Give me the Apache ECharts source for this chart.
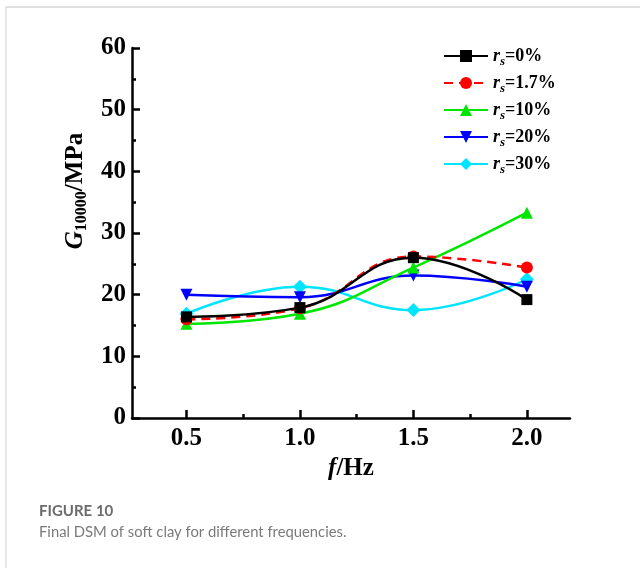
<!DOCTYPE html>
<html>
<head>
<meta charset="utf-8">
<script src="https://cdn.jsdelivr.net/npm/echarts@6/dist/echarts.min.js"></script>
<style>
html, body { margin: 0; padding: 0; background: #fff; }
#chartmain { width: 640px; height: 568px; }
</style>
</head>
<body>
<div id="chartmain"></div>
<script>
var freqs = [0.5, 1.0, 1.5, 2.0];
var seriesNames = ['rs=0%', 'rs=1.7%', 'rs=10%', 'rs=20%', 'rs=30%'];
var rsLabels = ['0%', '1.7%', '10%', '20%', '30%'];
var g0 = [16.4, 17.9, 26.0, 19.2];
var g17 = [16.0, 17.8, 26.2, 24.4];
var g10 = [15.3, 16.9, 24.4, 33.3];
var g20 = [20.0, 19.6, 23.1, 21.3];
var g30 = [16.9, 21.3, 17.5, 22.5];
var yTicks = [0, 10, 20, 30, 40, 50, 60];
var xMinorTicks = [0.75, 1.25, 1.75];

var colors = ['#000000', '#ff0000', '#00e600', '#0000ff', '#00e5ff'];
var symbols = ['rect', 'circle', 'triangle', 'path://M0,0 L10,0 L5,9 Z', 'diamond'];
var symbolSizes = [11, 12, 12, 12, 14];
var allData = [g0, g17, g10, g20, g30];

var serif = '"Liberation Serif", "Times New Roman", serif';

function pairs(vals) {
    var out = [];
    for (var i = 0; i < freqs.length; i++) {
        out.push([freqs[i], vals[i]]);
    }
    return out;
}

var series = [];
for (var k = 0; k < seriesNames.length; k++) {
    series.push({
        name: seriesNames[k],
        type: 'line',
        smooth: 0.45,
        data: pairs(allData[k]),
        symbol: symbols[k],
        symbolSize: symbolSizes[k],
        itemStyle: { color: colors[k] },
        lineStyle: { color: colors[k], width: 2.5, type: k === 1 ? [9, 6] : 'solid' },
        z: 10 - k
    });
}

var axisLine = { show: true, lineStyle: { color: '#000', width: 2.5 } };
var tickFont = { fontFamily: serif, fontWeight: 'bold', fontSize: 25, color: '#000' };

var chart = echarts.init(document.getElementById('chartmain'), null, { renderer: 'canvas' });
chart.setOption({
    animation: false,
    grid: { left: 132, top: 48, right: 70, bottom: 150 },
    legend: {
        orient: 'vertical',
        left: 438,
        top: 42,
        itemWidth: 44,
        itemHeight: 15,
        itemGap: 6,
        data: seriesNames,
        formatter: function (name) {
            var i = seriesNames.indexOf(name);
            return '{r|r}{s|s}{n|=' + rsLabels[i] + '}';
        },
        textStyle: {
            color: '#000',
            rich: {
                r: { color: '#000', fontFamily: serif, fontStyle: 'italic', fontWeight: 'bold', fontSize: 18, lineHeight: 24, verticalAlign: 'middle' },
                s: { color: '#000', fontFamily: serif, fontStyle: 'italic', fontWeight: 'bold', fontSize: 13, lineHeight: 24, verticalAlign: 'bottom' },
                n: { color: '#000', fontFamily: serif, fontWeight: 'bold', fontSize: 18, lineHeight: 24, verticalAlign: 'middle' }
            }
        },
        padding: [5, 5, 5, 5]
    },
    xAxis: [{
        type: 'value',
        min: 0.26,
        max: 2.19,
        axisLine: axisLine,
        axisTick: { show: true, inside: true, length: 8, lineStyle: { width: 2.5, color: '#000' }, customValues: freqs },
        axisLabel: Object.assign({ margin: 8, customValues: freqs, formatter: function (v) { return v.toFixed(1); } }, tickFont),
        splitLine: { show: false },
        name: '{f|f}{h|/Hz}',
        nameLocation: 'middle',
        nameGap: 36,
        nameTextStyle: {
            rich: {
                f: { color: '#000', fontFamily: serif, fontStyle: 'italic', fontWeight: 'bold', fontSize: 25 },
                h: { color: '#000', fontFamily: serif, fontWeight: 'bold', fontSize: 25 }
            }
        }
    }, {
        type: 'value',
        min: 0.26,
        max: 2.19,
        position: 'bottom',
        axisLine: { show: false },
        axisTick: { show: true, inside: true, length: 4, lineStyle: { width: 2.5, color: '#000' }, customValues: xMinorTicks },
        axisLabel: { show: false },
        splitLine: { show: false }
    }],
    yAxis: {
        type: 'value',
        min: 0,
        max: 60,
        interval: 10,
        axisLine: axisLine,
        axisTick: { show: true, inside: true, length: 8, lineStyle: { width: 2.5, color: '#000' } },
        minorTick: { show: true, splitNumber: 2, length: 4, lineStyle: { width: 2.5, color: '#000' } },
        axisLabel: Object.assign({ margin: 6, customValues: yTicks }, tickFont),
        splitLine: { show: false },
        name: '{g|G}{s|10000}{m|/MPa}',
        nameLocation: 'middle',
        nameRotate: 90,
        nameGap: 40,
        nameTextStyle: {
            padding: [0, 0, 0, 84],
            rich: {
                g: { color: '#000', fontFamily: serif, fontStyle: 'italic', fontWeight: 'bold', fontSize: 25, lineHeight: 30, verticalAlign: 'middle' },
                s: { color: '#000', fontFamily: serif, fontWeight: 'bold', fontSize: 16, lineHeight: 30, verticalAlign: 'bottom' },
                m: { color: '#000', fontFamily: serif, fontWeight: 'bold', fontSize: 25, lineHeight: 30, verticalAlign: 'middle' }
            }
        }
    },
    graphic: [
        { type: 'line', shape: { x1: 6, y1: 7, x2: 640, y2: 7 }, style: { stroke: '#d6d6d6', lineWidth: 1.5 } },
        { type: 'line', shape: { x1: 6, y1: 7, x2: 6, y2: 568 }, style: { stroke: '#cfcfcf', lineWidth: 1 } },
        { type: 'text', left: 39, top: 504, style: { text: 'FIGURE 10', font: 'bold 15px Lato, "Open Sans", sans-serif', fill: '#6b6b6b' } },
        { type: 'text', left: 39, top: 525, style: { text: 'Final DSM of soft clay for different frequencies.', font: '14.8px Lato, "Open Sans", sans-serif', fill: '#7a7a7a' } }
    ],
    series: series
});
</script>
</body>
</html>
